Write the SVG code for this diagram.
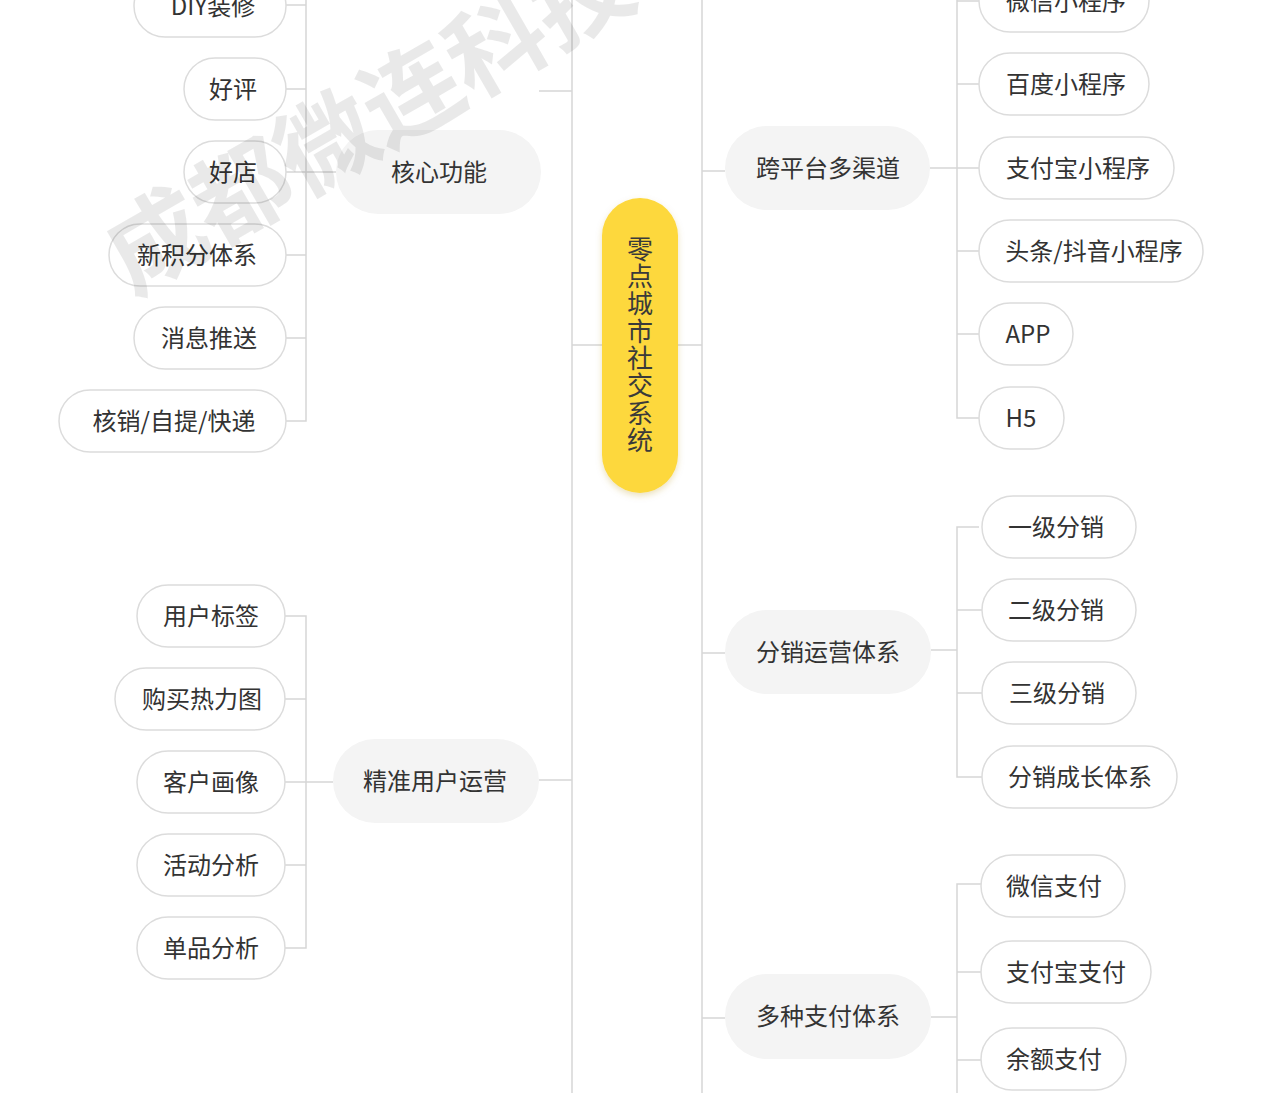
<svg xmlns="http://www.w3.org/2000/svg" width="1280" height="1093" viewBox="0 0 1280 1093">
<defs>
<style>
.t{font-family:"Noto Sans CJK SC","Noto Sans",sans-serif;font-size:24px;fill:#333;text-anchor:middle;dominant-baseline:central}
.c{fill:#fff;stroke:#dcdcdc;stroke-width:1.5}
.p{fill:#f4f4f4}
.ln{stroke:#d6d6d6;stroke-width:1.5;fill:none}
.ct{font-family:"Noto Sans CJK SC","Noto Sans",sans-serif;font-size:26px;fill:#3a3a3a;writing-mode:vertical-rl;letter-spacing:1.3px}
</style>
<filter id="sh" x="-30%" y="-10%" width="160%" height="120%">
<feDropShadow dx="0" dy="3" stdDeviation="3" flood-color="#b08a00" flood-opacity="0.25"/>
</filter>
</defs>
<rect width="1280" height="1093" fill="#fff"/>
<g id="connectors" class="ln">
<path d="M572 0V1093M702 0V1093M572 345H602M678 345H702"/>
<path d="M539 91H572M306 0V421H286M286 5H306M286 89H306M286 172H336M286 255H306M286 338H306"/>
<path d="M539 780H572M285 616H306V948H285M285 699H306M285 782H333M285 865H306"/>
<path d="M702 171H725M930 168H979M957 0V418H979M957 1H979M957 84H979M957 251H979M957 334H979"/>
<path d="M702 653H725M931 650H957M979 527H957V777H982M957 610H982M957 693H982"/>
<path d="M702 1018H725M931 1017H957M981 884H957V1093M957 972H981M957 1060H981"/>
</g>
<g id="center"><rect x="602" y="198" width="76" height="295" rx="38" fill="#fdd83d" filter="url(#sh)"/>
<text class="ct" x="640" y="236">零点城市社交系统</text></g>
<g id="n-hexin"><rect class="p" x="336" y="130" width="205" height="84" rx="42"/><text class="t" x="439" y="170">核心功能</text></g>
<g id="n-diy"><rect class="c" x="134" y="-25" width="152" height="62" rx="31"/><text class="t" x="213" y="4">DIY装修</text></g>
<g id="n-haoping"><rect class="c" x="184" y="58" width="102" height="62" rx="31"/><text class="t" x="233" y="87">好评</text></g>
<g id="n-haodian"><rect class="c" x="184" y="141" width="102" height="62" rx="31"/><text class="t" x="233" y="170">好店</text></g>
<g id="n-jifen"><rect class="c" x="109" y="224" width="177" height="62" rx="31"/><text class="t" x="197" y="253">新积分体系</text></g>
<g id="n-xiaoxi"><rect class="c" x="134" y="307" width="152" height="62" rx="31"/><text class="t" x="209" y="336">消息推送</text></g>
<g id="n-hexiao"><rect class="c" x="59" y="390" width="227" height="62" rx="31"/><text class="t" x="174" y="419">核销/自提/快递</text></g>
<g id="n-jingzhun"><rect class="p" x="333" y="739" width="206" height="84" rx="42"/><text class="t" x="435" y="779">精准用户运营</text></g>
<g id="n-biaoqian"><rect class="c" x="137" y="585" width="148" height="62" rx="31"/><text class="t" x="211" y="614">用户标签</text></g>
<g id="n-reli"><rect class="c" x="115" y="668" width="170" height="62" rx="31"/><text class="t" x="202" y="697">购买热力图</text></g>
<g id="n-huaxiang"><rect class="c" x="137" y="751" width="148" height="62" rx="31"/><text class="t" x="211" y="780">客户画像</text></g>
<g id="n-huodong"><rect class="c" x="137" y="834" width="148" height="62" rx="31"/><text class="t" x="211" y="863">活动分析</text></g>
<g id="n-danpin"><rect class="c" x="137" y="917" width="148" height="62" rx="31"/><text class="t" x="211" y="946">单品分析</text></g>
<g id="n-kuapingtai"><rect class="p" x="725" y="126" width="205" height="84" rx="42"/><text class="t" x="828" y="166">跨平台多渠道</text></g>
<g id="n-weixinxcx"><rect class="c" x="979" y="-30" width="170" height="62" rx="31"/><text class="t" x="1066" y="-1">微信小程序</text></g>
<g id="n-baidu"><rect class="c" x="979" y="53" width="170" height="62" rx="31"/><text class="t" x="1066" y="82">百度小程序</text></g>
<g id="n-zfbxcx"><rect class="c" x="979" y="137" width="195" height="62" rx="31"/><text class="t" x="1078" y="166">支付宝小程序</text></g>
<g id="n-toutiao"><rect class="c" x="979" y="220" width="224" height="62" rx="31"/><text class="t" x="1094" y="249">头条/抖音小程序</text></g>
<g id="n-app"><rect class="c" x="979" y="303" width="94" height="62" rx="31"/><text class="t" x="1028" y="332">APP</text></g>
<g id="n-h5"><rect class="c" x="979" y="387" width="85" height="62" rx="31"/><text class="t" x="1021" y="416">H5</text></g>
<g id="n-fenxiao"><rect class="p" x="725" y="610" width="206" height="84" rx="42"/><text class="t" x="828" y="650">分销运营体系</text></g>
<g id="n-yiji"><rect class="c" x="982" y="496" width="154" height="62" rx="31"/><text class="t" x="1056" y="525">一级分销</text></g>
<g id="n-erji"><rect class="c" x="982" y="579" width="154" height="62" rx="31"/><text class="t" x="1056" y="608">二级分销</text></g>
<g id="n-sanji"><rect class="c" x="982" y="662" width="154" height="62" rx="31"/><text class="t" x="1057" y="691">三级分销</text></g>
<g id="n-chengzhang"><rect class="c" x="982" y="746" width="195" height="62" rx="31"/><text class="t" x="1080" y="775">分销成长体系</text></g>
<g id="n-zhifu"><rect class="p" x="725" y="974" width="206" height="85" rx="42"/><text class="t" x="828" y="1014">多种支付体系</text></g>
<g id="n-wxzf"><rect class="c" x="981" y="855" width="144" height="62" rx="31"/><text class="t" x="1054" y="884">微信支付</text></g>
<g id="n-zfbzf"><rect class="c" x="981" y="941" width="170" height="62" rx="31"/><text class="t" x="1066" y="970">支付宝支付</text></g>
<g id="n-yue"><rect class="c" x="981" y="1028" width="145" height="62" rx="31"/><text class="t" x="1054" y="1057">余额支付</text></g>
<text id="watermark" transform="translate(132,296) rotate(-30)" x="0" y="0" font-family="'Noto Sans CJK SC',sans-serif" font-weight="bold" font-size="98" fill="#000" fill-opacity="0.085">成都微连科技</text>
</svg>
